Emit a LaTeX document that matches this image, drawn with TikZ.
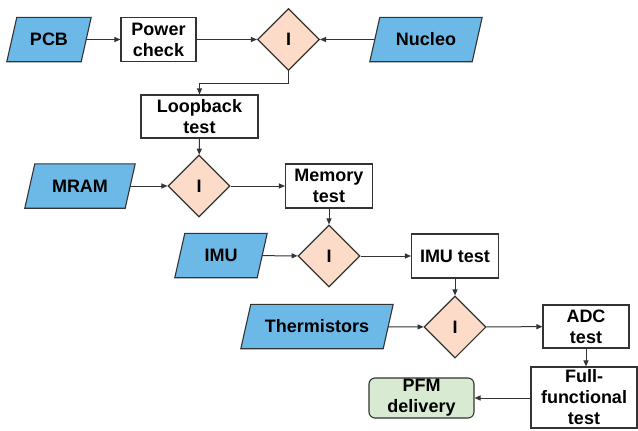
\documentclass[tikz,border=0pt]{standalone}
\usepackage{fontspec}
\setmainfont{Liberation Sans}
\usetikzlibrary{arrows.meta,shapes.geometric,backgrounds,calc}
\definecolor{pblue}{HTML}{6CB8E6}
\definecolor{peach}{HTML}{FCDCC9}
\definecolor{pgreen}{HTML}{D9EAD3}
\definecolor{lineC}{HTML}{333333}
\newcommand\mypara[1]{%
  \begin{pgfonlayer}{background}
  \filldraw[fill=pblue, draw=lineC, line width=1.1pt, line join=miter]
    ([xshift=-5pt]#1.south west) -- ([xshift=-5pt]#1.south east) --
    ([xshift=5pt]#1.north east) -- ([xshift=5pt]#1.north west) -- cycle;
  \end{pgfonlayer}}
\begin{document}
\begin{tikzpicture}[x=1pt,y=-1pt,
  base/.style={align=center, font=\fontsize{18}{21}\selectfont\bfseries, inner sep=0pt},
  box/.style={base, rectangle, draw=lineC, line width=1.1pt, fill=white},
  dia/.style={base, diamond, draw=lineC, line width=1.1pt, fill=peach, minimum width=62pt, minimum height=62pt},
  para/.style={base, rectangle, minimum height=44pt},
  endbox/.style={base, rectangle, rounded corners=6pt, draw=lineC, line width=1.1pt, fill=pgreen},
  arr/.style={draw=lineC, line width=1pt, -{Triangle[length=6pt,width=5pt]}}]
\begin{pgfonlayer}{background}
\fill[white] (0,0) rectangle (638,431);
\end{pgfonlayer}
\useasboundingbox (0,0) rectangle (638,431);

% inputs
\node[para, minimum width=74pt] (pcb) at (49,39.5) {PCB};
\mypara{pcb}
\node[para, minimum width=102pt] (nuc) at (426,39.5) {Nucleo};
\mypara{nuc}
\node[para, minimum width=100pt] (mram) at (80,186) {MRAM};
\mypara{mram}
\node[para, minimum width=82pt] (imu) at (221,255.5) {IMU};
\mypara{imu}
\node[para, minimum width=142pt] (th) at (317,326.5) {Thermistors};
\mypara{th}

% process boxes
\node[box, minimum width=75pt, minimum height=44pt] (pc) at (158.5,39.5) {Power\\check};
\node[box, minimum width=117pt, minimum height=43pt] (lb) at (199.5,116.5) {Loopback\\test};
\node[box, minimum width=87pt, minimum height=44pt] (mem) at (329,186) {Memory\\test};
\node[box, minimum width=87pt, minimum height=44pt] (imut) at (455,256) {IMU test};
\node[box, minimum width=86pt, minimum height=43pt] (adc) at (586,326.5) {ADC\\test};
\node[box, minimum width=106pt, minimum height=61pt] (ff) at (584,397.5) {Full-\\functional\\test};
\node[endbox, minimum width=105pt, minimum height=40pt] (pfm) at (421.5,398) {PFM\\delivery};

% integration diamonds
\node[dia] (d1) at (288.5,39.5) {I};
\node[dia] (d2) at (199,186) {I};
\node[dia] (d3) at (329,256) {I};
\node[dia] (d4) at (455,327) {I};

% connectors
\draw[arr] (pcb) -- (pc);
\draw[arr] (pc) -- (d1);
\draw[arr] (nuc) -- (d1);
\draw[arr] (d1.south) -- ++(0,12) -| (lb.north);
\draw[arr] (lb) -- (d2);
\draw[arr] (mram) -- (d2);
\draw[arr] (d2) -- (mem);
\draw[arr] (mem) -- (d3);
\draw[arr] (imu) -- (d3);
\draw[arr] (d3) -- (imut);
\draw[arr] (imut) -- (d4);
\draw[arr] (th) -- (d4);
\draw[arr] (d4) -- (adc);
\draw[arr] (adc.south) -- (adc.south |- ff.north);
\draw[arr] (ff.west |- pfm.east) -- (pfm.east);
\end{tikzpicture}
\end{document}
